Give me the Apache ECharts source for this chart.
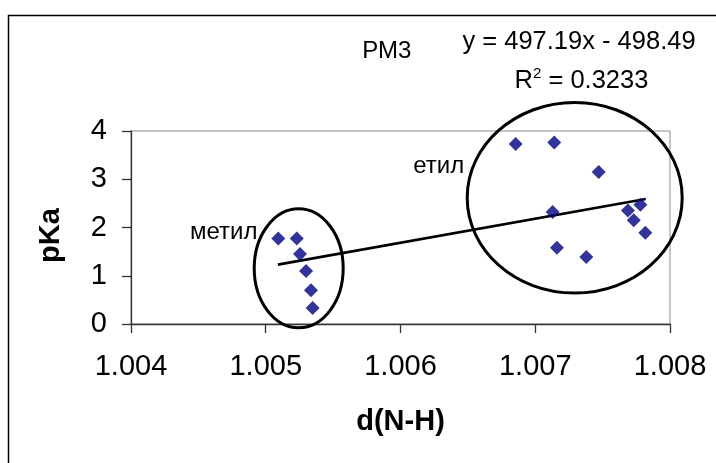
<!DOCTYPE html>
<html>
<head>
<meta charset="utf-8">
<script src="https://cdn.jsdelivr.net/npm/echarts@6/dist/echarts.min.js"></script>
<style>
html,body{margin:0;padding:0;background:#fff;}
#c{width:716px;height:463px;}
</style>
</head>
<body>
<div id="c"></div>
<script>
// data
const metilX = [1.005093, 1.005230, 1.005254, 1.005299, 1.005336, 1.005348];
const metilY = [1.77, 1.77, 1.45, 1.10, 0.70, 0.33];
const etilX = [1.006855, 1.007141, 1.007471, 1.007129, 1.007688, 1.007780, 1.007731, 1.007817, 1.007161, 1.007379];
const etilY = [3.73, 3.76, 3.15, 2.32, 2.35, 2.47, 2.15, 1.89, 1.58, 1.39];
const trendX = [1.00509, 1.00782];
const trendY = [1.23, 2.59];
const xTicks = [1.004, 1.005, 1.006, 1.007, 1.008];
const yTicks = [0, 1, 2, 3, 4];
const xTitle = 'd(N-H)';
const yTitle = 'pKa';
const methodLabel = 'РМ3';
const eqLabel = 'y = 497.19x - 498.49';
const r2Label = '0.3233';
const groupLabels = ['метил', 'етил'];

const FONT = "'Liberation Sans', Arial, sans-serif";
const zip = (xs, ys) => xs.map((x, i) => [x, ys[i]]);

const chart = echarts.init(document.getElementById('c'), null, {renderer: 'canvas'});
chart.setOption({
  animation: false,
  backgroundColor: '#fff',
  grid: {left: 131, top: 131, right: 46, bottom: 139, show: true, borderColor: '#8c8c8c', borderWidth: 1, backgroundColor: 'transparent'},
  xAxis: {
    type: 'value', min: xTicks[0], max: xTicks[xTicks.length - 1], interval: 0.001,
    name: xTitle, nameLocation: 'middle', nameGap: 83,
    nameTextStyle: {fontFamily: FONT, fontSize: 29, fontWeight: 'bold', color: '#000'},
    axisLine: {show: true, onZero: false, lineStyle: {color: '#333', width: 1.3}},
    axisTick: {show: true, inside: false, length: 9, lineStyle: {color: '#333', width: 1.3}},
    axisLabel: {fontFamily: FONT, fontSize: 29, color: '#000', margin: 28, formatter: v => v.toFixed(3)},
    splitLine: {show: false}
  },
  yAxis: {
    type: 'value', min: yTicks[0], max: yTicks[yTicks.length - 1], interval: 1,
    name: yTitle, nameLocation: 'middle', nameGap: 66,
    nameTextStyle: {fontFamily: FONT, fontSize: 29, fontWeight: 'bold', color: '#000', padding: [0, 16, 0, 0]},
    axisLine: {show: true, onZero: false, lineStyle: {color: '#333', width: 1.3}},
    axisTick: {show: true, inside: false, length: 9, lineStyle: {color: '#333', width: 1.3}},
    axisLabel: {fontFamily: FONT, fontSize: 29, color: '#000', margin: 24},
    splitLine: {show: false}
  },
  series: [
    {type: 'line', data: zip(trendX, trendY), symbol: 'none', lineStyle: {color: '#000', width: 2.6}, z: 3},
    {type: 'scatter', data: zip(metilX, metilY), symbol: 'diamond', symbolSize: 14, itemStyle: {color: '#000080'}, z: 4},
    {type: 'scatter', data: zip(etilX, etilY), symbol: 'diamond', symbolSize: 14, itemStyle: {color: '#000080'}, z: 4}
  ],
  graphic: [
    {type: 'rect', shape: {x: 8.5, y: 15.5, width: 760, height: 500}, style: {fill: 'none', stroke: '#000', lineWidth: 1.5}, silent: true},
    {type: 'ellipse', shape: {cx: 298.7, cy: 268.3, rx: 44.5, ry: 59.5}, style: {fill: 'none', stroke: '#000', lineWidth: 3}, z: 10},
    {type: 'ellipse', shape: {cx: 574.7, cy: 197.8, rx: 107.5, ry: 95.3}, style: {fill: 'none', stroke: '#000', lineWidth: 3}, z: 10},
    {type: 'text', x: 386.7, y: 51, style: {text: methodLabel, font: '24px ' + FONT, fill: '#000', textAlign: 'center', textVerticalAlign: 'middle'}},
    {type: 'text', x: 579, y: 42, style: {text: eqLabel, font: '25.5px ' + FONT, fill: '#000', textAlign: 'center', textVerticalAlign: 'middle'}},
    {type: 'text', x: 581.5, y: 80, style: {
      text: '{r|R}{s|2}{r| = ' + r2Label + '}', textAlign: 'center', textVerticalAlign: 'middle',
      rich: {r: {fontFamily: FONT, fontSize: 25.5, color: '#000', lineHeight: 28, verticalAlign: 'bottom'},
             s: {fontFamily: FONT, fontSize: 15, color: '#000', lineHeight: 28, verticalAlign: 'top'}}
    }},
    {type: 'text', x: 223.7, y: 232, style: {text: groupLabels[0], font: '24px ' + FONT, fill: '#000', textAlign: 'center', textVerticalAlign: 'middle'}},
    {type: 'text', x: 438.7, y: 166.5, style: {text: groupLabels[1], font: '24px ' + FONT, fill: '#000', textAlign: 'center', textVerticalAlign: 'middle'}}
  ]
});
</script>
</body>
</html>
